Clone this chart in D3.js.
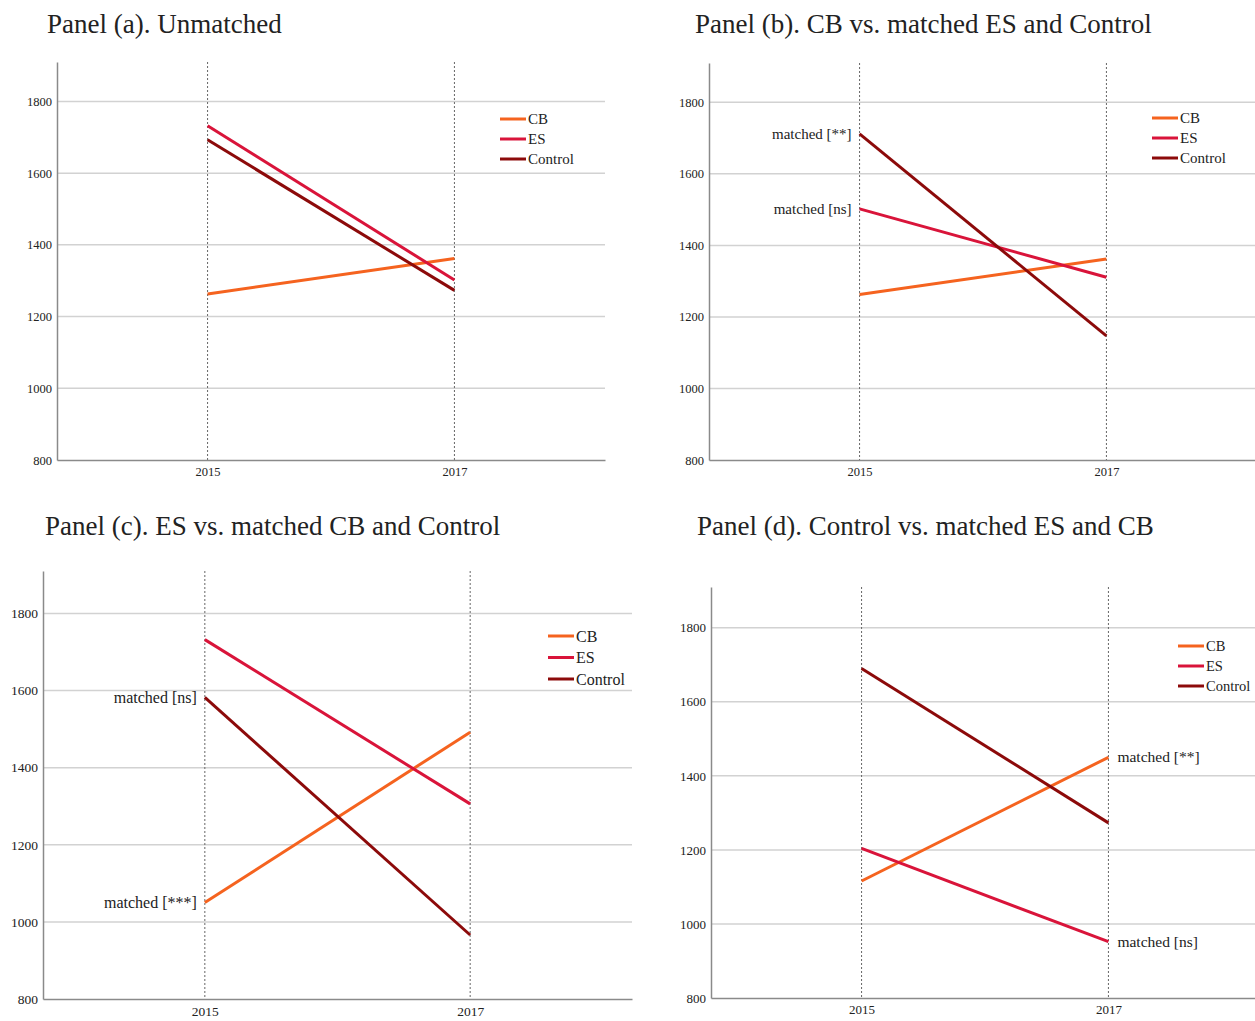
<!DOCTYPE html>
<html lang="en">
<head>
<meta charset="UTF-8">
<script src="https://d3js.org/d3.v7.min.js"></script>
<title>Panels</title>
<style>
  body { margin: 0; background: #fff; }
  text { font-family: "Liberation Serif", "DejaVu Serif", serif; fill: #222; }
</style>
</head>
<body>
<svg id="svg1" width="1255" height="1021"></svg>
<script>
// ---- data ----
const years = ["2015", "2017"];
const groups = ["CB", "ES", "Control"];
const yTicks = [800, 1000, 1200, 1400, 1600, 1800];
const titles = [
  "Panel (a). Unmatched",
  "Panel (b). CB vs. matched ES and Control",
  "Panel (c). ES vs. matched CB and Control",
  "Panel (d). Control vs. matched ES and CB"
];

const cbA = [1263, 1362], esA = [1732, 1302], ctrlA = [1693, 1273];
const cbB = [1263, 1362], esB = [1502, 1311], ctrlB = [1712, 1147];
const cbC = [1050, 1492], esC = [1732, 1306], ctrlC = [1582, 966];
const cbD = [1116, 1450], esD = [1204, 952], ctrlD = [1690, 1273];

// annotation: text, group, year index
const notesB = [["matched [**]", "Control", 0], ["matched [ns]", "ES", 0]];
const notesC = [["matched [ns]", "Control", 0], ["matched [***]", "CB", 0]];
const notesD = [["matched [**]", "CB", 1], ["matched [ns]", "ES", 1]];

const colors = {CB: "#f5631f", ES: "#d9143a", Control: "#8c0a0a"};

// ---- layout per panel ----
const panels = [
  {title: titles[0], series: [cbA, esA, ctrlA], notes: [],
   left: 57, right: 605, top: 62, bottom: 460, tx: 47, ty: 33,
   lx: 500, ly: 119, lstep: 20, fs: 15, lfs: 15, tfs: 12.5},
  {title: titles[1], series: [cbB, esB, ctrlB], notes: notesB,
   left: 709, right: 1257, top: 63, bottom: 460, tx: 695, ty: 33,
   lx: 1152, ly: 118, lstep: 20, fs: 15, lfs: 15, tfs: 12.5},
  {title: titles[2], series: [cbC, esC, ctrlC], notes: notesC,
   left: 43, right: 632, top: 571, bottom: 999, tx: 45, ty: 535,
   lx: 548, ly: 636, lstep: 21.5, fs: 16, lfs: 16, tfs: 13.5},
  {title: titles[3], series: [cbD, esD, ctrlD], notes: notesD,
   left: 711, right: 1259, top: 587, bottom: 998, tx: 697, ty: 535,
   lx: 1178, ly: 646, lstep: 20, fs: 15.5, lfs: 14.5, tfs: 13}
];

const svg1 = d3.select("svg#svg1");

panels.forEach(p => {
  const g = svg1.append("g");

  const x = d3.scalePoint().domain(years).range([p.left, p.right]).padding(0.61);
  const y = d3.scaleLinear().domain([800, 1910]).range([p.bottom, p.top]);

  // title
  g.append("text")
    .attr("x", p.tx).attr("y", p.ty)
    .style("font-size", "27px")
    .text(p.title);

  // gridlines
  g.selectAll("line.grid").data(yTicks.slice(1)).join("line")
    .attr("class", "grid")
    .attr("x1", p.left).attr("x2", p.right)
    .attr("y1", d => y(d)).attr("y2", d => y(d))
    .attr("stroke", "#d2d2d2").attr("stroke-width", 1.5);

  // dotted year lines
  g.selectAll("line.yr").data(years).join("line")
    .attr("class", "yr")
    .attr("x1", d => x(d)).attr("x2", d => x(d))
    .attr("y1", p.top).attr("y2", p.bottom)
    .attr("stroke", "#666").attr("stroke-width", 1)
    .attr("stroke-dasharray", "2,2");

  // axes
  const yAxis = g.append("g")
    .attr("transform", `translate(${p.left},0)`)
    .call(d3.axisLeft(y).tickValues(yTicks).tickFormat(d3.format("d"))
      .tickSize(0).tickPadding(5).tickSizeOuter(0));
  const xAxis = g.append("g")
    .attr("transform", `translate(0,${p.bottom})`)
    .call(d3.axisBottom(x).tickSize(0).tickPadding(7).tickSizeOuter(0));
  [yAxis, xAxis].forEach(a => {
    a.attr("font-size", p.tfs).attr("font-family", "'Liberation Serif', serif");
    a.select(".domain").attr("stroke", "#8a8a8a").attr("stroke-width", 1.5);
    a.selectAll("text").attr("fill", "#333");
  });

  // lines
  const lineGen = d3.line()
    .x((d, i) => x(years[i]))
    .y(d => y(d));
  groups.forEach((grp, k) => {
    g.append("path")
      .datum(p.series[k])
      .attr("fill", "none")
      .attr("stroke", colors[grp])
      .attr("stroke-width", 3)
      .attr("d", lineGen);
  });

  // annotations
  p.notes.forEach(n => {
    const k = groups.indexOf(n[1]);
    const yi = n[2];
    g.append("text")
      .attr("x", x(years[yi]) + (yi === 0 ? -8 : 9))
      .attr("y", y(p.series[k][yi]))
      .attr("dy", "0.32em")
      .attr("text-anchor", yi === 0 ? "end" : "start")
      .style("font-size", p.fs + "px")
      .text(n[0]);
  });

  // legend
  groups.forEach((grp, k) => {
    const ly = p.ly + k * p.lstep;
    g.append("line")
      .attr("x1", p.lx).attr("x2", p.lx + 26)
      .attr("y1", ly).attr("y2", ly)
      .attr("stroke", colors[grp]).attr("stroke-width", 3);
    g.append("text")
      .attr("x", p.lx + 28).attr("y", ly)
      .attr("dy", "0.35em")
      .style("font-size", p.lfs + "px")
      .text(grp);
  });
});
</script>
</body>
</html>
